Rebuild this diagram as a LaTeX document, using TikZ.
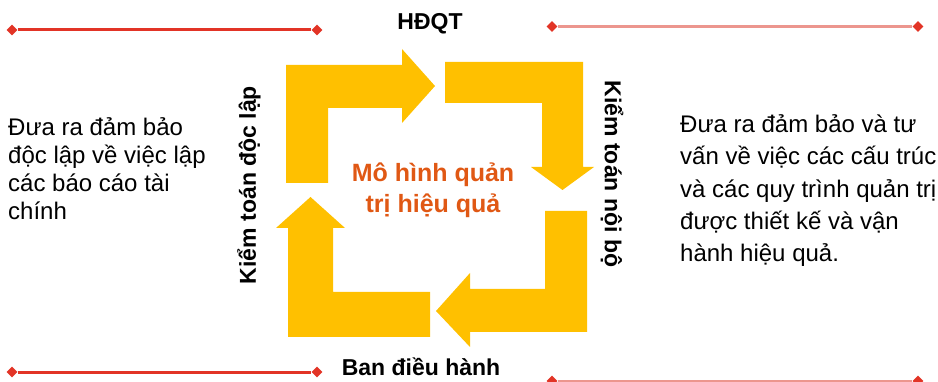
\documentclass[tikz,border=0pt]{standalone}
\usepackage{fontspec}
\setmainfont{Liberation Sans}
\usetikzlibrary{shapes.geometric}
\definecolor{cycleyellow}{RGB}{255,192,0}
\definecolor{titleorange}{RGB}{224,88,20}
\definecolor{rulered}{RGB}{226,52,38}
\definecolor{rulepink}{RGB}{236,150,142}
\begin{document}
\begin{tikzpicture}[x=1pt,y=-1pt,
  cyclearrow/.style={fill=cycleyellow,draw=none},
  rulemark/.style={diamond,fill=rulered,draw=none,inner sep=0pt,minimum width=11pt,minimum height=11pt},
  strongrule/.style={draw=rulered,line width=3pt},
  softrule/.style={draw=rulepink,line width=3pt},
  notetext/.style={font=\fontsize{24}{28}\selectfont,align=left,inner sep=0pt,text=black},
  notetextwide/.style={font=\fontsize{24}{32.5}\selectfont,align=left,inner sep=0pt,text=black},
  rolelabel/.style={font=\fontsize{23}{27}\selectfont\bfseries,inner sep=0pt,text=black},
  modeltitle/.style={font=\fontsize{25}{31}\selectfont\bfseries,align=center,inner sep=0pt,text=titleorange}]
\useasboundingbox (0,0) rectangle (938,382);

% four bent arrows of the cycle
\fill[cyclearrow] (286,183) -- (286,65) -- (402,65) -- (402,49) -- (435,86) -- (402,123) -- (402,108) -- (328,108) -- (328,183) -- cycle;
\fill[cyclearrow] (445,62) -- (583,62) -- (583,167) -- (594,167) -- (562.5,190) -- (531,167) -- (542,167) -- (542,103) -- (445,103) -- cycle;
\fill[cyclearrow] (587,211) -- (587,332) -- (470,332) -- (470,347) -- (436,311) -- (470,273) -- (470,289) -- (545,289) -- (545,211) -- cycle;
\fill[cyclearrow] (430,337) -- (288,337) -- (288,228) -- (276,228) -- (310.5,197) -- (345,228) -- (333,228) -- (333,292) -- (430,292) -- cycle;

% rules with diamond ends
\node[rulemark] (tla) at (12,30) {};
\node[rulemark] (tlb) at (317,30) {};
\draw[strongrule] (tla) -- (tlb);
\node[rulemark] (bla) at (12,372) {};
\node[rulemark] (blb) at (317,372) {};
\draw[strongrule] (bla) -- (blb);
\node[rulemark] (tra) at (552,26.5) {};
\node[rulemark] (trb) at (918,26.5) {};
\draw[softrule] (tra) -- (trb);
\node[rulemark] (bra) at (552,381) {};
\node[rulemark] (brb) at (918,381) {};
\draw[softrule] (bra) -- (brb);

% labels (a multi-line node's base is its last line)
\node[rolelabel,anchor=base] (board) at (430,30) {HĐQT};
\node[rolelabel,anchor=base] (exec) at (421,375) {Ban điều hành};
\node[rolelabel,rotate=90] (extaudit) at (249,185) {Kiểm toán độc lập};
\node[rolelabel,rotate=-90] (intaudit) at (612,174) {Kiểm toán nội bộ};
\node[modeltitle,anchor=base] (model) at (433,213) {Mô hình quản\\trị hiệu quả};

\node[notetext,anchor=base west] (lefttext) at (8,220) {Đưa ra đảm bảo\\độc lập về việc lập\\các báo cáo tài\\chính};
\node[notetextwide,anchor=base west] (righttext) at (680,262) {Đưa ra đảm bảo và tư\\vấn về việc các cấu trúc\\và các quy trình quản trị\\được thiết kế và vận\\hành hiệu quả.};
\end{tikzpicture}
\end{document}
